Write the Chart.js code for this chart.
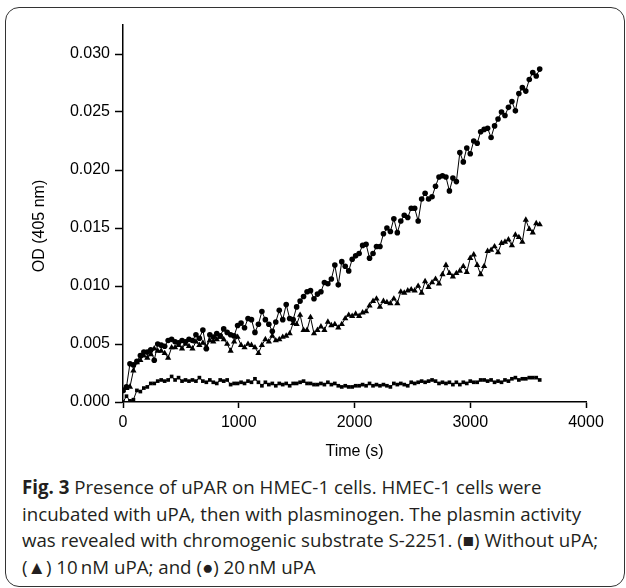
<!DOCTYPE html>
<html>
<head>
<meta charset="utf-8">
<script src="https://cdn.jsdelivr.net/npm/chart.js@4.4.0/dist/chart.umd.min.js"></script>
<style>
    body { margin: 0; background: #fff; }
    #wrap { position: relative; width: 626px; height: 588px; overflow: hidden; }
    #frame {
        position: absolute; left: 5px; top: 7px; width: 620px; height: 580px;
        box-sizing: border-box; border: 1.5px solid #333; border-radius: 14px;
    }
    #chartBox { position: absolute; left: 0; top: 0; width: 626px; height: 470px; }
    #caption {
        position: absolute; left: 22px; top: 474px;
        font-family: "Open Sans", sans-serif; font-size: 18.7px; line-height: 26.5px;
        color: #231f20; white-space: nowrap;
    }
</style>
</head>
<body>
<div id="wrap">
    <div id="frame"></div>
    <div id="chartBox"><canvas id="odChart" width="626" height="470"></canvas></div>
    <div id="caption">
        <b>Fig. 3</b> Presence of uPAR on HMEC-1 cells. HMEC-1 cells were<br>
        incubated with uPA, then with plasminogen. The plasmin activity<br>
        was revealed with chromogenic substrate S-2251. (■) Without uPA;<br>
        (▲) 10&#8201;nM uPA; and (●) 20&#8201;nM uPA
    </div>
</div>
<script>
// time points (s)
const times = [
    0, 30, 60, 90, 120, 150, 180, 210, 240, 270,
    300, 330, 360, 390, 420, 450, 480, 510, 540, 570,
    600, 630, 660, 690, 720, 750, 780, 810, 840, 870,
    900, 930, 960, 990, 1020, 1050, 1080, 1110, 1140, 1170,
    1200, 1230, 1260, 1290, 1320, 1350, 1380, 1410, 1440, 1470,
    1500, 1530, 1560, 1590, 1620, 1650, 1680, 1710, 1740, 1770,
    1800, 1830, 1860, 1890, 1920, 1950, 1980, 2010, 2040, 2070,
    2100, 2130, 2160, 2190, 2220, 2250, 2280, 2310, 2340, 2370,
    2400, 2430, 2460, 2490, 2520, 2550, 2580, 2610, 2640, 2670,
    2700, 2730, 2760, 2790, 2820, 2850, 2880, 2910, 2940, 2970,
    3000, 3030, 3060, 3090, 3120, 3150, 3180, 3210, 3240, 3270,
    3300, 3330, 3360, 3390, 3420, 3450, 3480, 3510, 3540, 3570,
    3600
];

// 20 nM uPA (circles)
const od20nM = [
    0.0010, 0.0013, 0.0033, 0.0032, 0.0035, 0.0040, 0.0043, 0.0043, 0.0045, 0.0036,
    0.0050, 0.0049, 0.0048, 0.0053, 0.0054, 0.0052, 0.0051, 0.0053, 0.0052, 0.0054,
    0.0053, 0.0058, 0.0055, 0.0062, 0.0046, 0.0058, 0.0056, 0.0059, 0.0057, 0.0063,
    0.0060, 0.0058, 0.0057, 0.0066, 0.0068, 0.0064, 0.0072, 0.0071, 0.0060, 0.0067,
    0.0078, 0.0071, 0.0067, 0.0061, 0.0069, 0.0079, 0.0071, 0.0084, 0.0072, 0.0071,
    0.0082, 0.0087, 0.0091, 0.0095, 0.0096, 0.0089, 0.0093, 0.0095, 0.0103, 0.0102,
    0.0106, 0.0118, 0.0101, 0.0121, 0.0117, 0.0113, 0.0123, 0.0126, 0.0128, 0.0135,
    0.0136, 0.0124, 0.0128, 0.0134, 0.0134, 0.0145, 0.0150, 0.0147, 0.0158, 0.0146,
    0.0156, 0.0161, 0.0159, 0.0167, 0.0167, 0.0156, 0.0175, 0.0180, 0.0175, 0.0177,
    0.0186, 0.0194, 0.0195, 0.0194, 0.0182, 0.0193, 0.0190, 0.0215, 0.0207, 0.0219,
    0.0214, 0.0225, 0.0223, 0.0233, 0.0235, 0.0236, 0.0228, 0.0238, 0.0244, 0.0250,
    0.0247, 0.0254, 0.0259, 0.0251, 0.0266, 0.0271, 0.0268, 0.0278, 0.0284, 0.0281,
    0.0287
];

// 10 nM uPA (triangles)
const od10nM = [
    0.0010, 0.0012, 0.0013, 0.0027, 0.0034, 0.0036, 0.0040, 0.0038, 0.0041, 0.0046,
    0.0044, 0.0044, 0.0042, 0.0038, 0.0047, 0.0047, 0.0049, 0.0046, 0.0050, 0.0048,
    0.0046, 0.0052, 0.0049, 0.0051, 0.0047, 0.0053, 0.0052, 0.0054, 0.0056, 0.0054,
    0.0050, 0.0044, 0.0052, 0.0056, 0.0049, 0.0047, 0.0050, 0.0049, 0.0047, 0.0042,
    0.0049, 0.0054, 0.0052, 0.0057, 0.0053, 0.0054, 0.0056, 0.0057, 0.0059, 0.0068,
    0.0067, 0.0075, 0.0062, 0.0062, 0.0073, 0.0059, 0.0062, 0.0065, 0.0062, 0.0069,
    0.0066, 0.0067, 0.0064, 0.0067, 0.0072, 0.0075, 0.0074, 0.0076, 0.0074, 0.0077,
    0.0078, 0.0083, 0.0087, 0.0089, 0.0082, 0.0087, 0.0086, 0.0085, 0.0089, 0.0085,
    0.0095, 0.0094, 0.0096, 0.0097, 0.0096, 0.0100, 0.0094, 0.0104, 0.0099, 0.0103,
    0.0106, 0.0102, 0.0110, 0.0118, 0.0111, 0.0108, 0.0111, 0.0113, 0.0117, 0.0112,
    0.0124, 0.0127, 0.0118, 0.0110, 0.0117, 0.0130, 0.0131, 0.0134, 0.0129, 0.0137,
    0.0138, 0.0140, 0.0135, 0.0144, 0.0142, 0.0138, 0.0157, 0.0149, 0.0146, 0.0154,
    0.0153
];

// without uPA (squares)
const odNoUPA = [
    0.0000, 0.0005, 0.0001, 0.0002, 0.0010, 0.0009, 0.0012, 0.0013, 0.0016, 0.0016,
    0.0018, 0.0019, 0.0018, 0.0019, 0.0022, 0.0019, 0.0021, 0.0018, 0.0019, 0.0018,
    0.0019, 0.0018, 0.0021, 0.0018, 0.0017, 0.0019, 0.0017, 0.0016, 0.0019, 0.0018,
    0.0019, 0.0015, 0.0016, 0.0016, 0.0017, 0.0016, 0.0018, 0.0017, 0.0020, 0.0017,
    0.0014, 0.0017, 0.0015, 0.0016, 0.0014, 0.0016, 0.0015, 0.0016, 0.0014, 0.0016,
    0.0016, 0.0017, 0.0018, 0.0016, 0.0016, 0.0015, 0.0015, 0.0016, 0.0015, 0.0017,
    0.0015, 0.0016, 0.0014, 0.0013, 0.0014, 0.0013, 0.0013, 0.0014, 0.0014, 0.0015,
    0.0014, 0.0016, 0.0014, 0.0015, 0.0014, 0.0015, 0.0014, 0.0013, 0.0016, 0.0015,
    0.0016, 0.0015, 0.0014, 0.0017, 0.0016, 0.0017, 0.0018, 0.0017, 0.0018, 0.0019,
    0.0018, 0.0016, 0.0017, 0.0016, 0.0017, 0.0015, 0.0017, 0.0015, 0.0017, 0.0016,
    0.0018, 0.0017, 0.0017, 0.0019, 0.0019, 0.0018, 0.0019, 0.0017, 0.0018, 0.0017,
    0.0019, 0.0018, 0.0020, 0.0021, 0.0019, 0.0020, 0.0020, 0.0021, 0.0021, 0.0021,
    0.0019
];

const xTicks = [0, 1000, 2000, 3000, 4000];
const yTicks = [0, 0.005, 0.010, 0.015, 0.020, 0.025, 0.030];

const axisFont = { family: "'Liberation Sans', Arial, sans-serif", size: 16 };

function toPoints(values)
{
    return values.map((v, i) => ({ x: times[i], y: v }));
}

function makeSet(label, values, style, radius)
{
    return {
        label: label,
        data: toPoints(values),
        borderColor: "#000",
        backgroundColor: "#000",
        borderWidth: 1,
        pointStyle: style,
        pointRadius: radius,
        pointBorderWidth: 0,
        tension: 0
    };
}

// y title is placed by hand, slightly below the plot centre as in the figure
const yTitlePlugin = {
    id: "yTitle",
    afterDraw(chart) {
        const ctx = chart.ctx;
        ctx.save();
        ctx.translate(40, 226);
        ctx.rotate(-Math.PI / 2);
        ctx.font = "16px 'Liberation Sans', Arial, sans-serif";
        ctx.fillStyle = "#000";
        ctx.textAlign = "center";
        ctx.textBaseline = "middle";
        ctx.fillText("OD (405 nm)", 0, 0);
        ctx.restore();
    }
};

const ctx = document.getElementById("odChart").getContext("2d");

new Chart(ctx, {
    type: "line",
    data: {
        datasets: [
            makeSet("Without uPA", odNoUPA, "rect", 2.6),
            makeSet("10 nM uPA", od10nM, "triangle", 3.6),
            makeSet("20 nM uPA", od20nM, "circle", 2.8)
        ]
    },
    options: {
        responsive: false,
        animation: false,
        devicePixelRatio: 1,
        layout: { padding: { left: 0, top: 25, right: 40, bottom: 0 } },
        plugins: { legend: { display: false }, tooltip: { enabled: false } },
        scales: {
            x: {
                type: "linear",
                min: 0,
                max: 4000,
                afterFit: (scale) => { scale.height = 68; },
                afterBuildTicks: (axis) => { axis.ticks = xTicks.map(v => ({ value: v })); },
                ticks: { color: "#000", font: axisFont, padding: 5, maxRotation: 0, autoSkip: false, callback: (v) => String(v) },
                grid: { drawOnChartArea: false, tickLength: 6, tickWidth: 1.5, color: "#000" },
                border: { color: "#000", width: 1.5 },
                title: { display: true, text: "Time (s)", color: "#000", font: axisFont, padding: { top: 0, bottom: 9 } }
            },
            y: {
                min: 0,
                max: 0.0325,
                afterFit: (scale) => { scale.width = 123; },
                afterBuildTicks: (axis) => { axis.ticks = yTicks.map(v => ({ value: v })); },
                ticks: { color: "#000", font: axisFont, padding: 5, autoSkip: false, callback: (v) => v.toFixed(3) },
                grid: { drawOnChartArea: false, tickLength: 8, tickWidth: 1.5, color: "#000" },
                border: { color: "#000", width: 1.5 }
            }
        }
    },
    plugins: [yTitlePlugin]
});
</script>
</body>
</html>
